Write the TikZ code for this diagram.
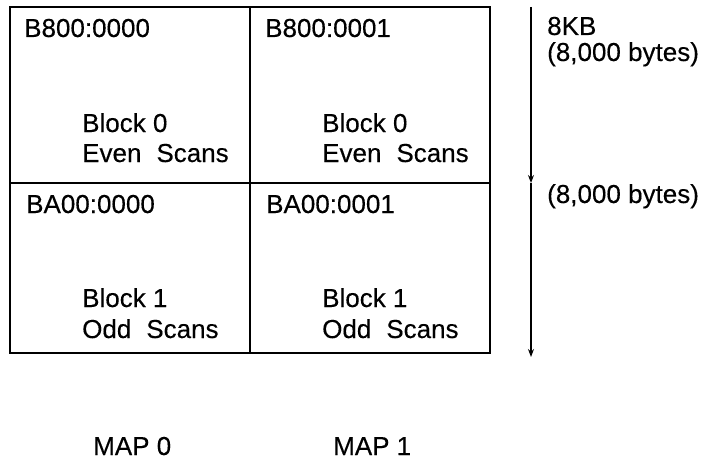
\documentclass[tikz,border=0pt]{standalone}
\usepackage{fontspec}
\setmainfont{Liberation Sans}[FakeBold=0.3]
\usetikzlibrary{arrows.meta}
\begin{document}
\begin{tikzpicture}[x=1pt,y=-1pt,
  lbl/.style={anchor=base west,inner sep=0pt,font=\fontsize{26}{30}\selectfont},
  grid/.style={line width=1.6pt,line join=miter},
  arr/.style={line width=1.1pt,-{Stealth[length=8pt,width=6pt]}}]
\useasboundingbox (0,0) rectangle (705,460);
% grid
\draw[grid] (10,7) rectangle (490,353);
\draw[grid] (250,7) -- (250,353);
\draw[grid] (10,183) -- (490,183);
% cell texts
\node[lbl] (a00) at (24,37) {B800:0000};
\node[lbl] (a01) at (265,37) {B800:0001};
\node[lbl] (b00) at (82,132) {Block 0};
\node[lbl] (e00) at (82,162) {Even\hspace{15pt}Scans};
\node[lbl] (b01) at (322,132) {Block 0};
\node[lbl] (e01) at (322,162) {Even\hspace{15pt}Scans};
\node[lbl] (a10) at (26,213) {BA00:0000};
\node[lbl] (a11) at (266,213) {BA00:0001};
\node[lbl] (b10) at (82,307) {Block 1};
\node[lbl] (o10) at (82,338) {Odd\hspace{15pt}Scans};
\node[lbl] (b11) at (322,307) {Block 1};
\node[lbl] (o11) at (322,338) {Odd\hspace{15pt}Scans};
% arrow
\coordinate (atop) at (531,7);
\coordinate (amid) at (531,183);
\coordinate (abot) at (531,357);
\draw[arr] (atop) -- (amid);
\draw[arr] (amid) -- (abot);
% right labels
\node[lbl] (kb) at (547,35) {8KB};
\node[lbl] (by0) at (547,61) {(8,000 bytes)};
\node[lbl] (by1) at (547,203) {(8,000 bytes)};
% map labels
\node[lbl] (m0) at (93,455) {MAP 0};
\node[lbl] (m1) at (333,455) {MAP 1};
\end{tikzpicture}
\end{document}
